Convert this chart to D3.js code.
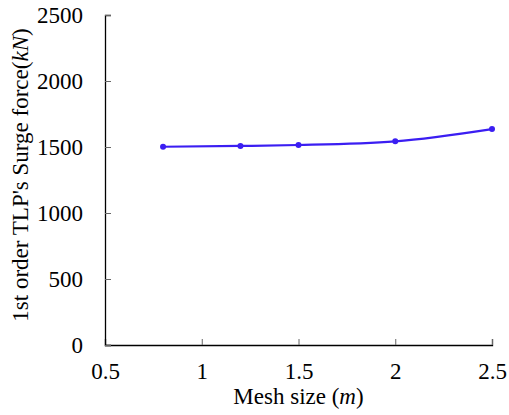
<!DOCTYPE html>
<html>
<head>
<meta charset="utf-8">
<script src="https://cdn.jsdelivr.net/npm/d3@7"></script>
<style>
  body { margin: 0; background: #fff; }
</style>
</head>
<body>
<svg id="chart" width="509" height="415"></svg>
<script>
// data
var meshSize = [0.8, 1.2, 1.5, 2.0, 2.5];
var surgeForce = [1502, 1508, 1515, 1543, 1636];
var xTicks = [0.5, 1, 1.5, 2, 2.5];
var yTicks = [0, 500, 1000, 1500, 2000, 2500];

var svg = d3.select("#chart");
var margin = { left: 105, right: 17, top: 15, bottom: 70 };
var width = 509 - margin.left - margin.right,
    height = 415 - margin.top - margin.bottom;
var fontSize = 23;
var fontFamily = "Liberation Serif";

var x = d3.scaleLinear().domain([0.5, 2.5]).range([0, width]);
var y = d3.scaleLinear().domain([0, 2500]).range([height, 0]);

var g = svg.append("g").attr("transform", "translate(" + margin.left + "," + margin.top + ")");

// x axis, ticks pointing inward
var xAxis = g.append("g")
  .attr("transform", "translate(0," + height + ")")
  .call(d3.axisBottom(x).tickValues(xTicks).tickSize(-6).tickPadding(18)
    .tickFormat(function (d) { return d; }));
xAxis.attr("font-family", fontFamily).attr("font-size", fontSize);
xAxis.select(".domain").attr("stroke", "#000").attr("stroke-width", 1.3);
xAxis.selectAll(".tick line").attr("stroke", "#666");
xAxis.selectAll("text").attr("fill", "#000");

// y axis
var yAxis = g.append("g")
  .call(d3.axisLeft(y).tickValues(yTicks).tickSize(-6).tickPadding(22)
    .tickFormat(function (d) { return d; }));
yAxis.attr("font-family", fontFamily).attr("font-size", fontSize);
yAxis.select(".domain").attr("stroke", "#000").attr("stroke-width", 1.3);
yAxis.selectAll(".tick line").attr("stroke", "#666");
yAxis.selectAll("text").attr("fill", "#000");

// line
var line = d3.line()
  .x(function (d, i) { return x(meshSize[i]); })
  .y(function (d) { return y(d); })
  .curve(d3.curveMonotoneX);

g.append("path")
  .datum(surgeForce)
  .attr("fill", "none")
  .attr("stroke", "#3b1ef2")
  .attr("stroke-width", 2.2)
  .attr("d", line);

g.selectAll("circle")
  .data(surgeForce)
  .enter()
  .append("circle")
  .attr("cx", function (d, i) { return x(meshSize[i]); })
  .attr("cy", function (d) { return y(d); })
  .attr("r", 3)
  .attr("fill", "#3b1ef2");

// axis titles
var xt = svg.append("text")
  .attr("x", margin.left + width / 2)
  .attr("y", 404)
  .attr("text-anchor", "middle")
  .attr("font-family", fontFamily)
  .attr("font-size", fontSize);
xt.append("tspan").text("Mesh size (");
xt.append("tspan").attr("font-style", "italic").text("m");
xt.append("tspan").text(")");

var yt = svg.append("text")
  .attr("transform", "translate(28," + (margin.top + height / 2 - 5) + ") rotate(-90)")
  .attr("text-anchor", "middle")
  .attr("font-family", fontFamily)
  .attr("font-size", fontSize);
yt.append("tspan").text("1st order TLP's Surge force(");
yt.append("tspan").attr("font-style", "italic").text("kN");
yt.append("tspan").text(")");
</script>
</body>
</html>
